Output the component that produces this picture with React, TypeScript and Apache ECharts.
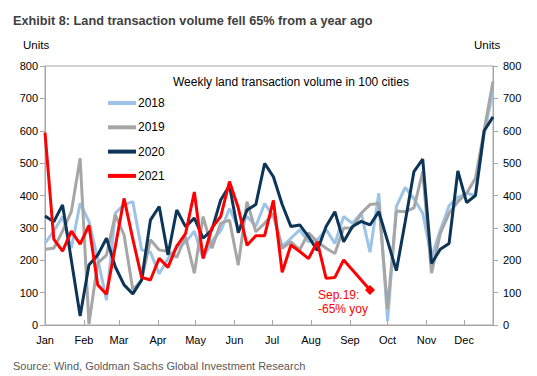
import React, { useEffect, useRef } from "react";
import * as echarts from "echarts";

const titleText = "Exhibit 8: Land transaction volume fell 65% from a year ago";
const sourceText = "Source: Wind, Goldman Sachs Global Investment Research";
const subtitleText = "Weekly land transaction volume in 100 cities";
const unitText = "Units";
const annotationLines = ["Sep.19:", "-65% yoy"];

const months = ["Jan", "Feb", "Mar", "Apr", "May", "Jun", "Jul", "Aug", "Sep", "Oct", "Nov", "Dec"];
const monthStartDays = [0, 31, 59, 90, 120, 151, 181, 212, 243, 273, 304, 334];
const daysPerWeek = 7;
const xMaxDay = 357;

const yMin = 0;
const yMax = 800;
const yInterval = 100;

const seriesNames = ["2018", "2019", "2020", "2021"];
const seriesColors = ["#9DC3E6", "#A6A6A6", "#0C3558", "#FF0000"];

const v2018 = [
  252, 290, 335, 237, 376, 320, 205, 77, 345, 372, 381,
  232, 225, 158, 205, 240, 255, 290, 205, 260, 290, 360,
  300, 335, 305, 375, 335, 242, 268, 294, 257, 263, 295,
  252, 335, 314, 345, 225, 407, 12, 366, 425,
  390, 345, 210, 293, 368, 394, 407, 400, 595, 718,
];
const v2019 = [
  234, 237, 290, 350, 515, 3, 191, 216, 340, 278, 108,
  139, 263, 232, 227, 209, 273, 160, 335, 237, 314, 324,
  185, 381, 288, 314, 345, 237, 257, 232, 285, 257, 237,
  221, 300, 300, 345, 372, 375, 50, 352, 350,
  362, 474, 160, 283, 345, 381, 407, 453, 602, 752,
];
const v2020 = [
  337, 319, 371, 200, 28, 185, 216, 268, 180, 124, 96,
  139, 324, 366, 216, 355, 304, 330, 268, 294, 386, 430,
  285, 355, 372, 499, 458, 372, 304, 309, 273, 230, 304,
  350, 257, 304, 320, 309, 350, 259, 168, 318,
  474, 512, 190, 234, 252, 476, 378, 400, 600, 643,
];
const v2021 = [
  594, 265, 228, 290, 250, 308, 124, 95, 242, 391, 265,
  147, 139, 206, 178, 244, 282, 411, 206, 300, 335, 443,
  362, 246, 276, 276, 385, 163, 247, 227, 205, 257, 144,
  147, 201, 170, 139, 108,
];
const allValues = [v2018, v2019, v2020, v2021];

const FONT = "'Liberation Sans', Arial, sans-serif";
const AXIS_COLOR = "#A6A6A6";

export default function App() {
  const ref = useRef<HTMLDivElement>(null);

  useEffect(() => {
    if (!ref.current) return;
    const chart = echarts.init(ref.current, undefined, { renderer: "svg" });

    const series = allValues.map((vals, si) => {
      const isLast = si === allValues.length - 1;
      const lastIdx = vals.length - 1;
      const s: any = {
        name: seriesNames[si],
        type: "line",
        data: vals.map((v, i) => [i * daysPerWeek, v]),
        symbol: "none",
        lineStyle: { color: seriesColors[si], width: 3 },
        itemStyle: { color: seriesColors[si] },
        z: 2 + si,
        silent: true,
      };
      if (isLast) {
        s.markPoint = {
          symbol: "diamond",
          symbolSize: 10,
          silent: true,
          label: { show: false },
          itemStyle: { color: seriesColors[si] },
          data: [{ coord: [lastIdx * daysPerWeek, vals[lastIdx]] }],
        };
      }
      return s;
    });

    const yAxisBase = {
      type: "value",
      min: yMin,
      max: yMax,
      interval: yInterval,
      splitLine: { show: false },
      axisLine: { show: true, lineStyle: { color: AXIS_COLOR, width: 1 } },
      axisTick: { show: true, inside: false, length: 5, lineStyle: { color: AXIS_COLOR } },
    };

    chart.setOption({
      animation: false,
      backgroundColor: "#ffffff",
      textStyle: { fontFamily: FONT },
      title: {
        text: titleText,
        left: 13,
        top: 14,
        padding: 0,
        textStyle: { fontFamily: FONT, fontSize: 12.7, fontWeight: "bold", color: "#404040" },
      },
      grid: {
        left: 45,
        right: 44,
        top: 66,
        bottom: 51,
        show: true,
        borderColor: AXIS_COLOR,
        borderWidth: 1,
        containLabel: false,
      },
      legend: {
        orient: "vertical",
        left: 108,
        top: 97,
        icon: "rect",
        itemWidth: 28,
        itemHeight: 4,
        itemGap: 12.3,
        padding: 0,
        data: seriesNames,
        textStyle: { fontFamily: FONT, fontSize: 12, color: "#000000", padding: [0, 0, 0, -3] },
        selectedMode: false,
      },
      xAxis: {
        type: "value",
        min: 0,
        max: xMaxDay,
        splitLine: { show: false },
        axisLine: { show: true, lineStyle: { color: AXIS_COLOR, width: 1 } },
        axisTick: {
          show: true,
          inside: true,
          length: 5,
          customValues: monthStartDays,
          lineStyle: { color: AXIS_COLOR },
        },
        axisLabel: {
          customValues: monthStartDays,
          formatter: (v: number) => {
            const idx = monthStartDays.indexOf(Math.round(v));
            return idx >= 0 ? months[idx] : "";
          },
          margin: 9,
          fontFamily: FONT,
          fontSize: 11,
          color: "#000000",
        },
      },
      yAxis: [
        {
          ...yAxisBase,
          position: "left",
          axisLabel: { margin: 7, fontFamily: FONT, fontSize: 11, color: "#000000" },
        },
        {
          ...yAxisBase,
          position: "right",
          axisLabel: { margin: 10, fontFamily: FONT, fontSize: 11, color: "#000000" },
        },
      ],
      graphic: [
        {
          type: "text",
          x: 23,
          y: 45,
          style: { text: unitText, font: `11.5px ${FONT}`, fill: "#000000", verticalAlign: "middle", align: "left" },
        },
        {
          type: "text",
          x: 474,
          y: 45,
          style: { text: unitText, font: `11.5px ${FONT}`, fill: "#000000", verticalAlign: "middle", align: "left" },
        },
        {
          type: "text",
          x: 173,
          y: 82,
          style: { text: subtitleText, font: `12px ${FONT}`, fill: "#000000", verticalAlign: "middle", align: "left" },
        },
        {
          type: "text",
          x: 318,
          y: 295,
          style: { text: annotationLines[0], font: `12px ${FONT}`, fill: "#FF0000", verticalAlign: "middle", align: "left" },
        },
        {
          type: "text",
          x: 318,
          y: 309,
          style: { text: annotationLines[1], font: `12px ${FONT}`, fill: "#FF0000", verticalAlign: "middle", align: "left" },
        },
        {
          type: "text",
          x: 13,
          y: 366,
          style: { text: sourceText, font: `11px ${FONT}`, fill: "#595959", verticalAlign: "middle", align: "left" },
        },
      ],
      series,
    });

    return () => {
      chart.dispose();
    };
  }, []);

  return (
    <div
      ref={ref}
      style={{ position: "absolute", left: 0, top: 0, width: 537, height: 376 }}
    />
  );
}
